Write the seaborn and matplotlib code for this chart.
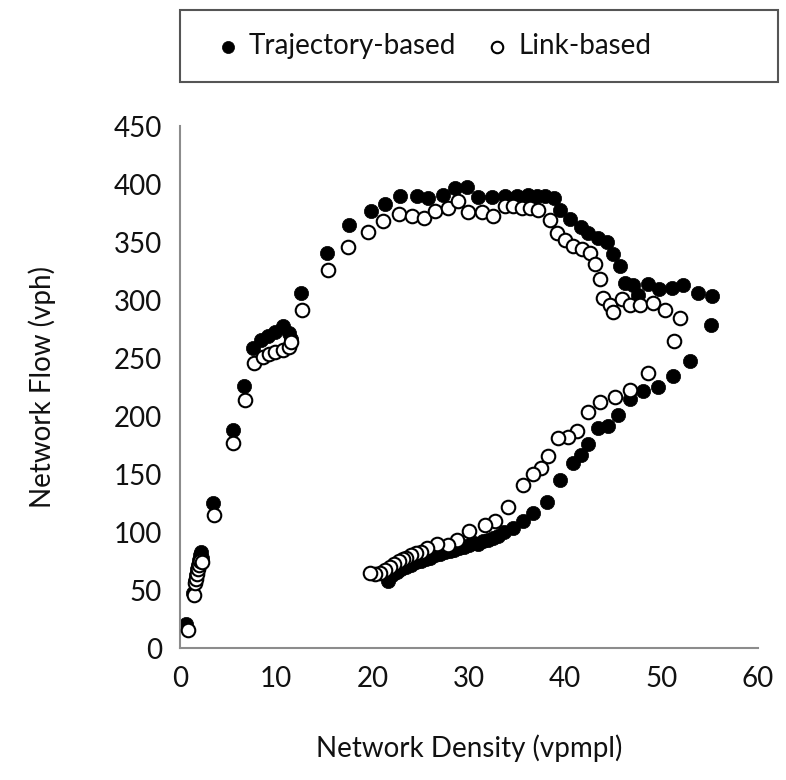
import matplotlib
matplotlib.use("Agg")
import matplotlib.pyplot as plt
import seaborn as sns
import pandas as pd
from matplotlib.patches import Rectangle

# trajectory-based (filled markers)
traj_density = [0.6, 1.3, 1.6, 1.7, 1.8, 1.9, 2.0, 2.1, 2.2, 2.3, 3.4, 5.5, 6.6, 7.6, 8.4, 9.1, 9.9, 10.7,
                11.3, 11.5, 12.6, 15.3, 17.6, 19.8, 21.3, 22.9, 24.6, 25.8, 27.3, 28.6, 29.8, 31.0, 32.4,
                33.8, 35.0, 36.1, 37.1, 37.9, 38.8, 39.5, 40.5, 41.6, 42.4, 43.4, 44.4, 45.0, 45.7, 46.2,
                47.0, 47.6, 48.6, 49.8, 51.1, 52.2, 53.8, 55.3,
                55.2, 53.0, 51.2, 49.6, 48.1, 46.7, 45.5, 44.5, 43.4, 42.4, 41.6, 40.8, 39.5, 38.1, 36.7,
                35.6, 34.6, 33.6, 33.0, 32.5, 32.0, 31.5, 31.0, 30.5, 30.0, 29.5, 29.0, 28.5, 28.0, 27.5,
                27.0, 26.5, 26.0, 25.5, 25.0, 24.5, 24.0, 23.5, 23.0, 22.5, 22.0, 21.6]
traj_flow = [21, 48, 58, 63, 68, 72, 76, 80, 83, 78, 125, 188, 226, 259, 266, 269, 273, 278,
             272, 267, 306, 341, 365, 377, 383, 390, 390, 388, 391, 397, 398, 389, 389,
             390, 390, 391, 390, 390, 388, 378, 370, 363, 358, 354, 350, 340, 330, 315,
             313, 305, 314, 310, 311, 313, 306, 304,
             279, 248, 235, 225, 222, 215, 201, 192, 190, 176, 167, 160, 145, 126, 117,
             110, 104, 100, 97, 95, 93, 92, 90, 91, 89, 87, 86, 85, 84, 83,
             81, 80, 78, 77, 75, 74, 72, 70, 68, 66, 63, 58]

# link-based (hollow markers)
link_density = [0.8, 1.5, 1.6, 1.7, 1.8, 1.9, 2.0, 2.1, 2.3, 3.5, 5.5, 6.8, 7.7, 8.6, 9.2, 9.9, 10.7,
                11.3, 11.5, 12.7, 15.4, 17.4, 19.5, 21.1, 22.7, 24.1, 25.3, 26.5, 27.8, 28.9, 29.9,
                31.4, 32.5, 33.8, 34.6, 35.5, 36.4, 37.2, 38.4, 39.2, 40.0, 40.8, 41.8, 42.6, 43.1,
                43.6, 43.9, 44.7, 45.0, 45.9, 46.7, 47.8, 49.1, 50.4, 51.9,
                51.3, 48.6, 46.7, 45.2, 43.6, 42.4, 41.2, 40.3, 39.3, 38.2, 37.5, 36.7, 35.6, 34.1,
                32.7, 31.7, 30.0, 28.8, 27.8, 26.7, 25.7, 25.0, 24.5, 24.0, 23.5, 23.2, 22.7, 22.2,
                21.8, 21.3, 20.8, 20.3, 19.7]
link_flow = [16, 46, 56, 60, 64, 68, 72, 75, 74, 115, 177, 214, 246, 251, 254, 255, 257,
             260, 264, 292, 326, 346, 359, 368, 374, 373, 371, 377, 380, 386, 376,
             376, 373, 381, 381, 380, 380, 378, 369, 358, 352, 347, 344, 341, 331,
             318, 302, 296, 290, 301, 296, 296, 298, 292, 285,
             265, 237, 223, 217, 212, 204, 187, 182, 181, 166, 155, 150, 141, 122,
             110, 106, 101, 93, 89, 90, 86, 83, 82, 80, 78, 77, 75, 73,
             70, 67, 65, 64, 65]

x_ticks = [0, 10, 20, 30, 40, 50, 60]
y_ticks = [0, 50, 100, 150, 200, 250, 300, 350, 400, 450]

sns.set_style("white")
plt.rcParams["font.family"] = ["Lato", "DejaVu Sans"]

traj = pd.DataFrame({"density": traj_density, "flow": traj_flow})
link = pd.DataFrame({"density": link_density, "flow": link_flow})

fig = plt.figure(figsize=(7.86, 7.80), dpi=100)
ax = fig.add_axes([0.229, 0.169, 0.735, 0.669])

sns.scatterplot(data=traj, x="density", y="flow", ax=ax, color="black", edgecolor="black",
                s=105, linewidth=0.5, label="Trajectory-based", zorder=2)
sns.scatterplot(data=link, x="density", y="flow", ax=ax, facecolor="white", edgecolor="black",
                s=95, linewidth=1.5, label="Link-based", zorder=3)

ax.set_xlim(0, 60)
ax.set_ylim(0, 450)
ax.set_xticks(x_ticks)
ax.set_yticks(y_ticks)
ax.tick_params(axis="both", direction="out", length=7, width=1.5, color="#8c8c8c",
               labelsize=20, labelcolor="#111111", pad=6)
for side in ["top", "right"]:
    ax.spines[side].set_visible(False)
for side in ["left", "bottom"]:
    ax.spines[side].set_color("#8c8c8c")
    ax.spines[side].set_linewidth(1.5)

ax.set_xlabel("Network Density (vpmpl)", fontsize=20, color="#111111")
ax.set_ylabel("Network Flow (vph)", fontsize=20, color="#111111")
ax.xaxis.set_label_coords(0.5, -0.165)
ax.yaxis.set_label_coords(-0.215, 0.5)

ax.get_legend().remove()
handles, labels = ax.get_legend_handles_labels()
fig.patches.append(Rectangle((0.229, 0.895), 0.761, 0.092, transform=fig.transFigure,
                             facecolor="white", edgecolor="#555555", linewidth=1.5))
fig.legend(handles, labels, loc="center", bbox_to_anchor=(0.552, 0.941), ncol=2,
           frameon=False, fontsize=20, handlelength=0.8, handletextpad=0.35, columnspacing=1.1,
           markerscale=0.85, labelcolor="#111111")

fig.savefig("out.png", dpi=100)
